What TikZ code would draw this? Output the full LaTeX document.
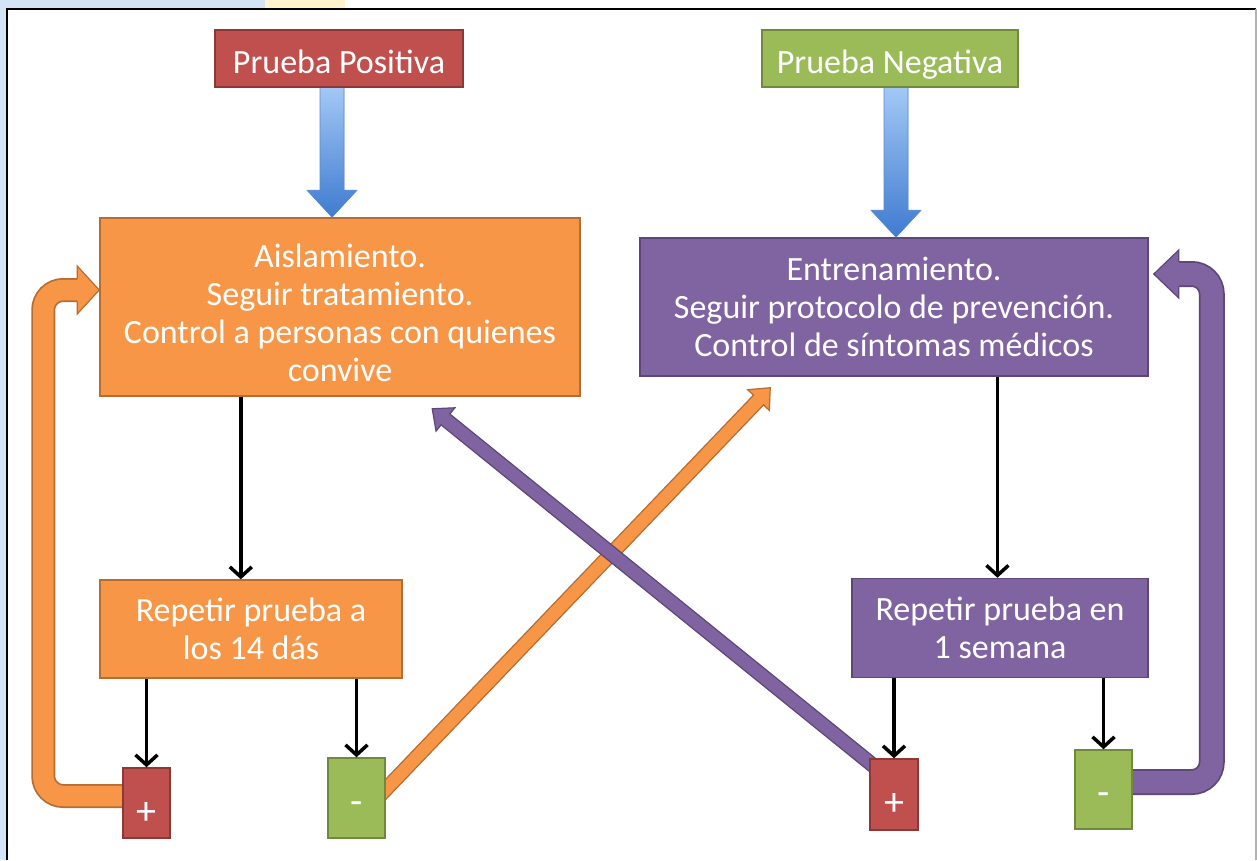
\documentclass[tikz,border=0pt]{standalone}
\usepackage{fontspec}
\setmainfont{Carlito}
\usetikzlibrary{arrows.meta,calc}
\definecolor{redF}{HTML}{C0504D}\definecolor{redD}{HTML}{8C3836}
\definecolor{grnF}{HTML}{9BBB59}\definecolor{grnD}{HTML}{71893F}
\definecolor{orF}{HTML}{F79646}\definecolor{orD}{HTML}{B66D31}
\definecolor{puF}{HTML}{8064A2}\definecolor{puD}{HTML}{5C4776}
\definecolor{blT}{HTML}{A7CBF6}\definecolor{blB}{HTML}{3F7BD0}\definecolor{blD}{HTML}{5A8BD0}
\definecolor{bgblue}{HTML}{D4E4F7}\definecolor{bgyel}{HTML}{FFF4CC}
\newcommand\fatarrow[8]{%
  \path ($(#2)!#5!(#1)$) coordinate (fa-base);
  \filldraw[fill=#6,draw=#7,line width=1.2,line join=miter,#8]
   ($(#1)!#3!90:(#2)$) -- ($(fa-base)!#3!90:(#2)$) -- ($(fa-base)!#4!90:(#2)$) -- (#2)
   -- ($(fa-base)!#4!-90:(#2)$) -- ($(fa-base)!#3!-90:(#2)$) -- ($(#1)!#3!-90:(#2)$) -- cycle;}
\tikzset{
  box/.style={draw, line width=1.5, text=white, align=center, inner sep=0pt,
    font=\fontsize{34}{38}\selectfont},
  oneline/.style={text height=29pt, text depth=0pt},
  sgn/.style={draw, line width=1.5, inner sep=0pt},
  sgntext/.style={text=white, font=\fontsize{40}{40}\selectfont, yshift=-10pt},
  blk/.style={line width=3.5, -{Straight Barb[length=10pt,width=22pt]}},
}
\begin{document}
\begin{tikzpicture}[x=1pt,y=-1pt]
\useasboundingbox (0,0) rectangle (1257,860);
\fill[white] (0,0) rectangle (1257,860);
\fill[bgblue] (0,0) rectangle (7,860);
\fill[bgblue] (0,0) rectangle (265,8);
\fill[bgyel] (265,0) rectangle (345,8);
\draw[black, line width=2] (7,860) -- (7,9) -- (1256,9);
\draw[black!30, line width=1.2] (1256,9) -- (1256,860);

% top boxes
\node[box, oneline, fill=redF, draw=redD, minimum width=248, minimum height=57] (pp) at (339,58.5) {Prueba Positiva};
\node[box, oneline, fill=grnF, draw=grnD, minimum width=256, minimum height=57] (pn) at (890,58.5) {Prueba Negativa};
\coordinate (b1s) at ($(pp.south)+(-7,-6)$);
\coordinate (b2s) at ($(pn.south)+(6,-6)$);

\path (146.5,803) coordinate (plc) (356.5,798) coordinate (mlc)
      (894,794.5) coordinate (prc) (1103.5,789.5) coordinate (mrc);

\node[box, fill=orF, draw=orD, minimum width=480, minimum height=178] (aisl) at (340,307)
  {\rule{0pt}{36pt}Aislamiento.\\Seguir tratamiento.\\Control a personas con quienes\\convive};
\node[box, fill=puF, draw=puD, minimum width=508, minimum height=138] (ent) at (894,307)
  {Entrenamiento.\\Seguir protocolo de prevención.\\Control de síntomas médicos};

% fat blue arrows
\coordinate (b1t) at (b1s |- aisl.north);
\coordinate (b2t) at (b2s |- ent.north);
\fatarrow{b1s}{b1t}{12pt}{25pt}{27pt}{blB}{blD}{top color=blT,bottom color=blB,line width=0.6}
\fatarrow{b2s}{b2t}{12pt}{25pt}{27pt}{blB}{blD}{top color=blT,bottom color=blB,line width=0.6}
\node[box, oneline, fill=redF, draw=redD, minimum width=248, minimum height=57] at (pp) {Prueba Positiva};
\node[box, oneline, fill=grnF, draw=grnD, minimum width=256, minimum height=57] at (pn) {Prueba Negativa};

% orange loop
\coordinate (ls) at ($(plc)+(-12,-7)$);
\coordinate (lt) at ($(aisl.west)+(0,-17)$);
\draw[line width=24, orD, rounded corners=20] (ls) -| ($(lt)+(-56,0)$) -- ($(lt)+(-21,0)$);
\draw[line width=20.5, orF, rounded corners=20] (ls) -| ($(lt)+(-56,0)$) -- ($(lt)+(-21,0)$);
\filldraw[fill=orF, draw=orD, line width=1.2]
  ($(lt)+(-22,-11.5)$) -- ($(lt)+(-22,-24)$) -- (lt) -- ($(lt)+(-22,24)$) -- ($(lt)+(-22,11.5)$);

% purple loop
\coordinate (rs) at ($(mrc)+(12,-7.5)$);
\coordinate (rt) at ($(ent.east)+(5,-33)$);
\draw[line width=26, puD, rounded corners=20] (rs) -| ($(rt)+(58,0)$) -- ($(rt)+(24,0)$);
\draw[line width=22.5, puF, rounded corners=20] (rs) -| ($(rt)+(58,0)$) -- ($(rt)+(24,0)$);
\filldraw[fill=puF, draw=puD, line width=1.2]
  ($(rt)+(25,-12.5)$) -- ($(rt)+(25,-24)$) -- (rt) -- ($(rt)+(25,24)$) -- ($(rt)+(25,12.5)$);

% diagonal arrows
\coordinate (ods) at ($(mlc)+(19,2)$);
\coordinate (odt) at ($(ent.south west)+(131,11)$);
\fatarrow{ods}{odt}{7pt}{15pt}{17pt}{orF}{orD}{}
\coordinate (pds) at ($(prc)+(-14,-23.5)$);
\coordinate (pdt) at ($(aisl.south west)+(333,12)$);
\fatarrow{pds}{pdt}{7pt}{15pt}{17pt}{puF}{puD}{}

% lower boxes
\node[box, fill=orF, draw=orD, minimum width=302, minimum height=98] (rep14) at (251,629)
  {Repetir prueba a\\los 14 dás};
\node[box, fill=puF, draw=puD, minimum width=296, minimum height=99] (rep7) at (1000,628)
  {Repetir prueba en\\1 semana};
\node[sgn, fill=redF, draw=redD, minimum width=47, minimum height=70,
  label={[sgntext]center:+}] (plusL) at (plc) {};
\node[sgn, fill=grnF, draw=grnD, minimum width=57, minimum height=80,
  label={[sgntext]center:-}] (minusL) at (mlc) {};
\node[sgn, fill=redF, draw=redD, minimum width=48, minimum height=71,
  label={[sgntext]center:+}] (plusR) at (prc) {};
\node[sgn, fill=grnF, draw=grnD, minimum width=57, minimum height=79,
  label={[sgntext]center:-}] (minusR) at (mrc) {};

% black arrows
\coordinate (k1) at ($(aisl.south west)!0.294!(aisl.south east)$);
\draw[blk] (k1) -- (k1 |- rep14.north);
\coordinate (k2) at ($(ent.south west)!0.703!(ent.south east)$);
\draw[blk] (k2) -- (k2 |- rep7.north);
\draw[blk] (plusL |- rep14.south) -- (plusL.north);
\draw[blk] (minusL |- rep14.south) -- (minusL.north);
\draw[blk] (plusR |- rep7.south) -- (plusR.north);
\draw[blk] (minusR |- rep7.south) -- (minusR.north);
\end{tikzpicture}
\end{document}
